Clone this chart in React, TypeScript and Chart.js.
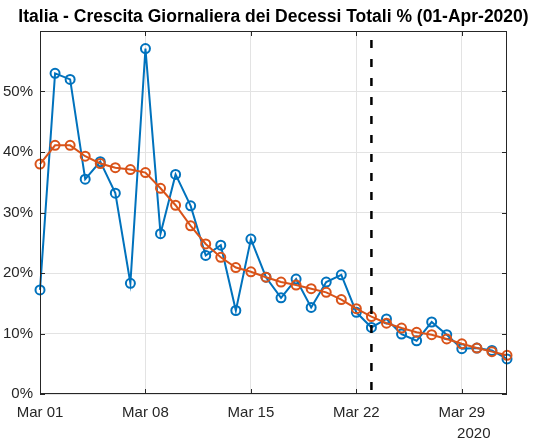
import React, { useEffect, useRef } from "react";
import { Chart, registerables } from "chart.js";

Chart.register(...registerables);

const titleText = "Italia - Crescita Giornaliera dei Decessi Totali % (01-Apr-2020)";
const yearLabel = "2020";

// day index 0 = Mar 01 ... 31 = Apr 01
const dayIndex = [
  0, 1, 2, 3, 4, 5, 6, 7, 8, 9, 10, 11, 12, 13, 14, 15,
  16, 17, 18, 19, 20, 21, 22, 23, 24, 25, 26, 27, 28, 29, 30, 31,
];
const dailyGrowth = [
  17.2, 53.0, 52.0, 35.5, 38.4, 33.2, 18.3, 57.1, 26.5, 36.3, 31.1, 22.9, 24.6, 13.8, 25.6, 19.3,
  15.9, 19.0, 14.3, 18.5, 19.7, 13.5, 11.0, 12.4, 9.9, 8.8, 11.9, 9.8, 7.5, 7.6, 7.2, 5.8,
];
const smoothedGrowth = [
  38.0, 41.1, 41.1, 39.3, 38.1, 37.4, 37.1, 36.6, 34.0, 31.2, 27.8, 24.8, 22.6, 20.9, 20.2, 19.3,
  18.5, 18.0, 17.4, 16.8, 15.6, 14.1, 12.8, 11.7, 10.9, 10.2, 9.8, 9.1, 8.3, 7.6, 7.0, 6.4,
];
const xTickDays = [0, 7, 14, 21, 28];
const xTickLabels = ["Mar 01", "Mar 08", "Mar 15", "Mar 22", "Mar 29"];
const yTickValues = [0, 10, 20, 30, 40, 50];
const markerDay = 22; // Mar 23

const FONT = "'Liberation Sans', Arial, Helvetica, sans-serif";
const AXIS = "#262626";
const BLUE = "#0072BD";
const ORANGE = "#D95319";

export default function App() {
  const ref = useRef<HTMLCanvasElement>(null);

  useEffect(() => {
    if (!ref.current) return;
    const framePlugin = {
      id: "frame",
      afterDatasetsDraw(chart: any) {
        const { ctx, chartArea: a, scales } = chart;
        const xs = scales.x;
        const ys = scales.y;
        ctx.save();
        // dashed vertical line
        const xm = xs.getPixelForValue(markerDay);
        ctx.strokeStyle = "#000";
        ctx.lineWidth = 2.5;
        ctx.setLineDash([8, 11]);
        ctx.beginPath();
        ctx.moveTo(xm, a.top + 9);
        ctx.lineTo(xm, a.bottom);
        ctx.stroke();
        ctx.setLineDash([]);
        // box
        ctx.strokeStyle = AXIS;
        ctx.lineWidth = 1;
        ctx.strokeRect(a.left + 0.5, a.top + 0.5, a.right - a.left - 1, a.bottom - a.top - 1);
        // inward ticks
        const tl = 5;
        ctx.beginPath();
        xTickDays.forEach((d) => {
          const px = Math.round(xs.getPixelForValue(d)) + 0.5;
          ctx.moveTo(px, a.bottom);
          ctx.lineTo(px, a.bottom - tl);
          ctx.moveTo(px, a.top);
          ctx.lineTo(px, a.top + tl);
        });
        yTickValues.forEach((v) => {
          const py = Math.round(ys.getPixelForValue(v)) + 0.5;
          ctx.moveTo(a.left, py);
          ctx.lineTo(a.left + tl, py);
          ctx.moveTo(a.right, py);
          ctx.lineTo(a.right - tl, py);
        });
        ctx.stroke();
        ctx.restore();
      },
      afterDraw(chart: any) {
        const { ctx, chartArea: a, scales } = chart;
        ctx.save();
        ctx.fillStyle = "#000";
        ctx.font = `bold 17.5px ${FONT}`;
        ctx.textAlign = "center";
        ctx.textBaseline = "middle";
        ctx.fillText(titleText, (a.left + a.right) / 2, 17);
        ctx.fillStyle = AXIS;
        ctx.font = `15px ${FONT}`;
        ctx.fillText(yearLabel, scales.x.getPixelForValue(28) + 12, 434);
        ctx.restore();
      },
    };

    const chart = new Chart(ref.current, {
      type: "line",
      data: {
        datasets: [
          {
            label: "smoothed",
            data: dayIndex.map((d, i) => ({ x: d, y: smoothedGrowth[i] })),
            borderColor: ORANGE,
            backgroundColor: "rgba(0,0,0,0)",
            borderWidth: 2,
            pointRadius: 4.5,
            pointBorderWidth: 2,
            pointBorderColor: ORANGE,
            pointBackgroundColor: "rgba(0,0,0,0)",
            tension: 0,
            clip: false as any,
            order: 0,
          },
          {
            label: "daily",
            data: dayIndex.map((d, i) => ({ x: d, y: dailyGrowth[i] })),
            borderColor: BLUE,
            backgroundColor: "rgba(0,0,0,0)",
            borderWidth: 2,
            pointRadius: 4.5,
            pointBorderWidth: 2,
            pointBorderColor: BLUE,
            pointBackgroundColor: "rgba(0,0,0,0)",
            tension: 0,
            clip: false as any,
            order: 1,
          },
        ],
      },
      options: {
        responsive: false,
        animation: false,
        layout: { padding: { top: 31, right: 29, left: 0, bottom: 0 } },
        plugins: {
          legend: { display: false },
          tooltip: { enabled: false },
          title: { display: false },
        },
        scales: {
          x: {
            type: "linear",
            min: 0,
            max: 31,
            afterFit: (s: any) => {
              s.height = 50;
            },
            afterBuildTicks: (s: any) => {
              s.ticks = xTickDays.map((v) => ({ value: v }));
            },
            ticks: {
              autoSkip: false,
              maxRotation: 0,
              padding: 10,
              color: AXIS,
              font: { family: FONT, size: 15 },
              callback: (v: any) => xTickLabels[xTickDays.indexOf(Number(v))] ?? "",
            },
            grid: { color: "#e3e3e3", drawTicks: false, lineWidth: 1 },
            border: { display: false },
          },
          y: {
            type: "linear",
            min: 0,
            max: 60,
            afterFit: (s: any) => {
              s.width = 40;
            },
            afterBuildTicks: (s: any) => {
              s.ticks = yTickValues.map((v) => ({ value: v }));
            },
            ticks: {
              padding: 7,
              color: AXIS,
              font: { family: FONT, size: 15 },
              callback: (v: any) => `${v}%`,
            },
            grid: { color: "#e3e3e3", drawTicks: false, lineWidth: 1 },
            border: { display: false },
          },
        },
      },
      plugins: [framePlugin],
    });
    return () => chart.destroy();
  }, []);

  return (
    <div style={{ position: "fixed", left: 0, top: 0, width: 536, height: 444, background: "#fff" }}>
      <canvas ref={ref} width={536} height={444} />
    </div>
  );
}
